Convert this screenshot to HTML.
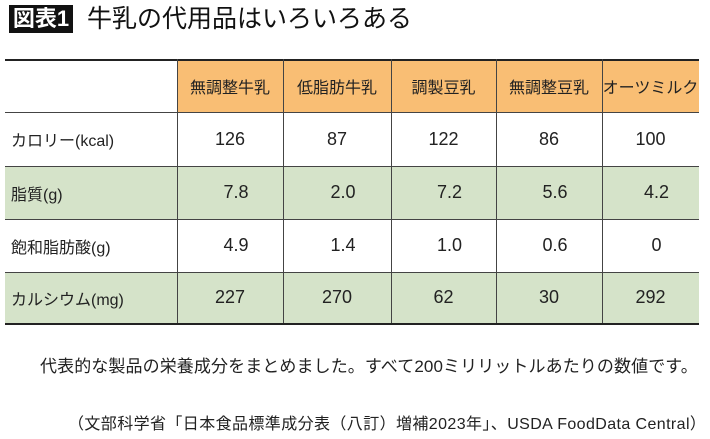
<!DOCTYPE html>
<html><head><meta charset="utf-8">
<style>
body{margin:0;width:710px;height:439px;background:#fff;position:relative;overflow:hidden;font-family:"Liberation Sans","Noto Sans CJK JP",sans-serif;color:#222}
.a{position:absolute}
.cell{position:absolute;display:flex;align-items:center;justify-content:center;font-size:16px;box-sizing:border-box}
.lbl{justify-content:flex-start;padding-left:6px;font-size:16px}
.hl{position:absolute;height:1px;background:#444}
.vl{position:absolute;width:1px;background:#444}
</style></head><body>
<div class="a" style="left:9px;top:5px;width:64px;height:28px;background:#111;color:#fff;font-size:22px;line-height:28px;text-align:center;font-weight:bold">図表1</div>
<div class="a" style="left:87px;top:3px;font-size:25px;line-height:32px;color:#111">牛乳の代用品はいろいろある</div>
<div id="tbl"></div>
<div class="a" style="left:40px;top:352px;font-size:17px;letter-spacing:0.1px;white-space:nowrap">代表的な製品の栄養成分をまとめました。すべて200ミリリットルあたりの数値です。</div>
<div class="a" style="left:68px;top:410px;font-size:16px;letter-spacing:0.4px;white-space:nowrap">（文部科学省「日本食品標準成分表（八訂）増補2023年」、USDA FoodData Central）</div>
<script>
const products=["無調整牛乳","低脂肪牛乳","調製豆乳","無調整豆乳","オーツミルク"];
const rowLabels=["カロリー(kcal)","脂質(g)","飽和脂肪酸(g)","カルシウム(mg)"];
const calories=["126","87","122","86","100"];
const fat=["7.8","2.0","7.2","5.6","4.2"];
const satFat=["4.9","1.4","1.0","0.6","0"];
const calcium=["227","270","62","30","292"];
const rows=[calories,fat,satFat,calcium];
const colX=[5,177,283,391,496,602,699];
const rowY=[59,112,166,219,272,323];
const off=[0,6,6,0];
const t=document.getElementById('tbl');
function mk(cls,css){const d=document.createElement('div');d.className=cls;d.style.cssText=css;t.appendChild(d);return d;}
for(let r=1;r<5;r++){if(r%2===0){const b=mk('a',`left:${colX[0]}px;top:${rowY[r]}px;width:${colX[6]-colX[0]}px;height:${rowY[r+1]-rowY[r]}px;background:#d5e3c9`);

}}
for(let c=0;c<5;c++){const h=mk('cell',`left:${colX[c+1]}px;top:${rowY[0]}px;width:${colX[c+2]-colX[c+1]}px;height:${rowY[1]-rowY[0]}px;background:#f9be74;font-size:16px;white-space:nowrap`);h.textContent=products[c];

}
for(let r=0;r<4;r++){
const l=mk('cell lbl',`left:${colX[0]}px;top:${rowY[r+1]}px;width:${colX[1]-colX[0]}px;height:${rowY[r+2]-rowY[r+1]}px`);l.textContent=rowLabels[r];


for(let c=0;c<5;c++){const v=mk('cell',`left:${colX[c+1]+off[r]}px;top:${rowY[r+1]}px;width:${colX[c+2]-colX[c+1]}px;height:${rowY[r+2]-rowY[r+1]}px;font-size:18px`);v.textContent=rows[r][c];

}}
rowY.forEach((y,i)=>{const h=mk('hl',`left:${colX[0]}px;top:${y}px;width:${colX[6]-colX[0]}px;${i===0||i===5?'height:2px;background:#222':''}`);

});
for(let c=1;c<6;c++){const v=mk('vl',`left:${colX[c]}px;top:${rowY[0]}px;height:${rowY[5]-rowY[0]}px`);

}
</script>
</body></html>
